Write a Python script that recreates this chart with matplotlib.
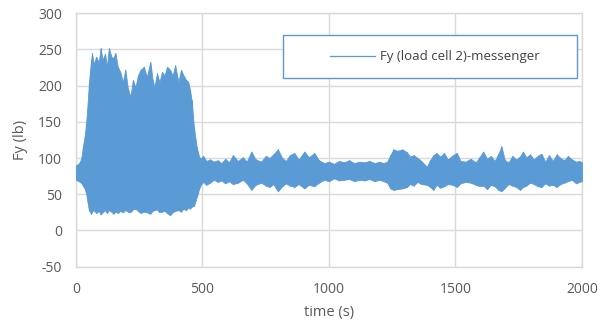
import numpy as np
import matplotlib.pyplot as plt
from matplotlib.patches import Rectangle

time_s = [0, 10, 20, 27, 35, 40, 46, 51, 56, 60,
          63, 70, 80, 90, 97, 105, 115, 122, 130, 140,
          148, 156, 165, 175, 185, 195, 205, 215, 225, 235,
          245, 255, 268, 280, 294, 302, 310, 320, 330, 340,
          350, 360, 372, 382, 392, 405, 415, 425, 435, 444,
          450, 457, 466, 472, 477, 482, 487, 495, 503, 515,
          530, 545, 560, 575, 590, 605, 620, 640, 660, 675,
          693, 710, 732, 750, 765, 780, 798, 815, 830, 845,
          863, 880, 903, 920, 942, 960, 981, 1000, 1020, 1040,
          1060, 1080, 1100, 1120, 1140, 1160, 1180, 1200, 1215, 1230,
          1243, 1255, 1270, 1290, 1308, 1320, 1335, 1350, 1365, 1387,
          1400, 1413, 1425, 1440, 1455, 1470, 1490, 1505, 1520, 1540,
          1560, 1580, 1595, 1610, 1625, 1640, 1655, 1670, 1682, 1695,
          1710, 1725, 1740, 1755, 1767, 1780, 1795, 1810, 1825, 1840,
          1855, 1870, 1885, 1900, 1915, 1930, 1945, 1960, 1977, 1990,
          2000]
upper_lb = [90, 92, 98, 115, 132, 148, 176, 203, 222, 235,
            245, 230, 240, 232, 252, 236, 244, 226, 252, 240,
            238, 245, 226, 219, 205, 222, 196, 185, 208, 198,
            214, 222, 226, 212, 233, 210, 198, 217, 205, 219,
            214, 226, 222, 214, 228, 205, 222, 214, 208, 205,
            195, 180, 143, 128, 115, 108, 101, 100, 103, 96,
            98, 95, 97, 93, 99, 94, 104, 96, 101, 95,
            109, 98, 95, 103, 100, 105, 112, 100, 96, 104,
            107, 98, 109, 101, 107, 97, 93, 95, 92, 96,
            94, 97, 93, 95, 94, 96, 93, 95, 93, 95,
            104, 112, 110, 112, 108, 102, 104, 100, 96, 88,
            97, 104, 107, 102, 107, 98, 104, 107, 96, 95,
            99, 94, 101, 109, 99, 103, 96, 106, 116, 97,
            94, 103, 98, 102, 109, 101, 105, 98, 103, 106,
            95, 104, 96, 105, 100, 97, 103, 98, 95, 96,
            94]
lower_lb = [70, 68, 66, 62, 57, 51, 38, 28, 25, 23,
            26, 28, 24, 27, 22, 25, 28, 24, 28, 26,
            23, 26, 24, 27, 25, 28, 26, 25, 29, 30,
            27, 24, 26, 25, 23, 27, 28, 29, 25, 26,
            27, 24, 21, 25, 27, 28, 26, 30, 28, 32,
            30, 33, 34, 40, 46, 52, 58, 64, 67, 63,
            66, 70, 67, 69, 65, 68, 64, 66, 70, 65,
            56, 63, 66, 62, 60, 64, 54, 61, 65, 62,
            60, 64, 58, 63, 61, 66, 70, 68, 72, 69,
            70, 71, 68, 70, 69, 71, 68, 70, 68, 66,
            58, 56, 57, 58, 60, 64, 62, 67, 64, 63,
            60, 56, 63, 59, 61, 64, 63, 60, 65, 67,
            66, 63, 61, 62, 57, 63, 61, 56, 54, 59,
            64, 62, 60, 56, 60, 62, 66, 64, 61, 60,
            65, 62, 63, 60, 64, 66, 68, 70, 65, 67,
            68]

SERIES_NAME = "Fy (load cell 2)-messenger"
BLUE = "#5B9BD5"
GRID = "#D9D9D9"
TEXT = "#595959"

plt.rcParams["font.family"] = ["Open Sans", "DejaVu Sans"]
plt.rcParams["axes.unicode_minus"] = False

fig = plt.figure(figsize=(6.11, 3.32), dpi=100)
ax = fig.add_axes([0.1244, 0.197, 0.828, 0.763])

t = np.array(time_s, dtype=float)
up = np.array(upper_lb, dtype=float)
lo = np.array(lower_lb, dtype=float)

ax.fill_between(t, lo, up, color=BLUE, linewidth=0.6, edgecolor=BLUE, zorder=3)
ax.vlines(t, lo, up, color=BLUE, linewidth=0.8, zorder=3)

ax.set_xlim(0, 2000)
ax.set_ylim(-50, 300)
ax.set_xticks(np.arange(0, 2001, 500))
ax.set_yticks(np.arange(-50, 301, 50))
ax.grid(True, color=GRID, linewidth=1.0, zorder=0)
ax.set_axisbelow(True)
for s in ax.spines.values():
    s.set_color(GRID)
    s.set_linewidth(1.0)
ax.tick_params(length=0, labelsize=10, colors=TEXT)
ax.tick_params(axis="x", pad=11)
ax.tick_params(axis="y", pad=10)
ax.set_xlabel("time (s)", fontsize=10.5, color=TEXT, labelpad=6)
ax.set_ylabel("Fy (lb)", fontsize=10.5, color=TEXT, labelpad=7)

# legend box
ax.add_patch(Rectangle((0.41, 0.743), 0.58, 0.17, transform=ax.transAxes,
                       facecolor="white", edgecolor=BLUE, linewidth=1.0,
                       zorder=5))
ax.plot([], [], color=BLUE, linewidth=0.9, label=SERIES_NAME)
leg = ax.legend(loc="center", bbox_to_anchor=(0.41 + 0.58 / 2 + 0.01, 0.743 + 0.085),
                bbox_transform=ax.transAxes, frameon=False, fontsize=9.5,
                handlelength=3.4, handletextpad=0.4)
leg.set_zorder(6)
for txt in leg.get_texts():
    txt.set_color("#404040")

fig.savefig("out.png", dpi=100)
